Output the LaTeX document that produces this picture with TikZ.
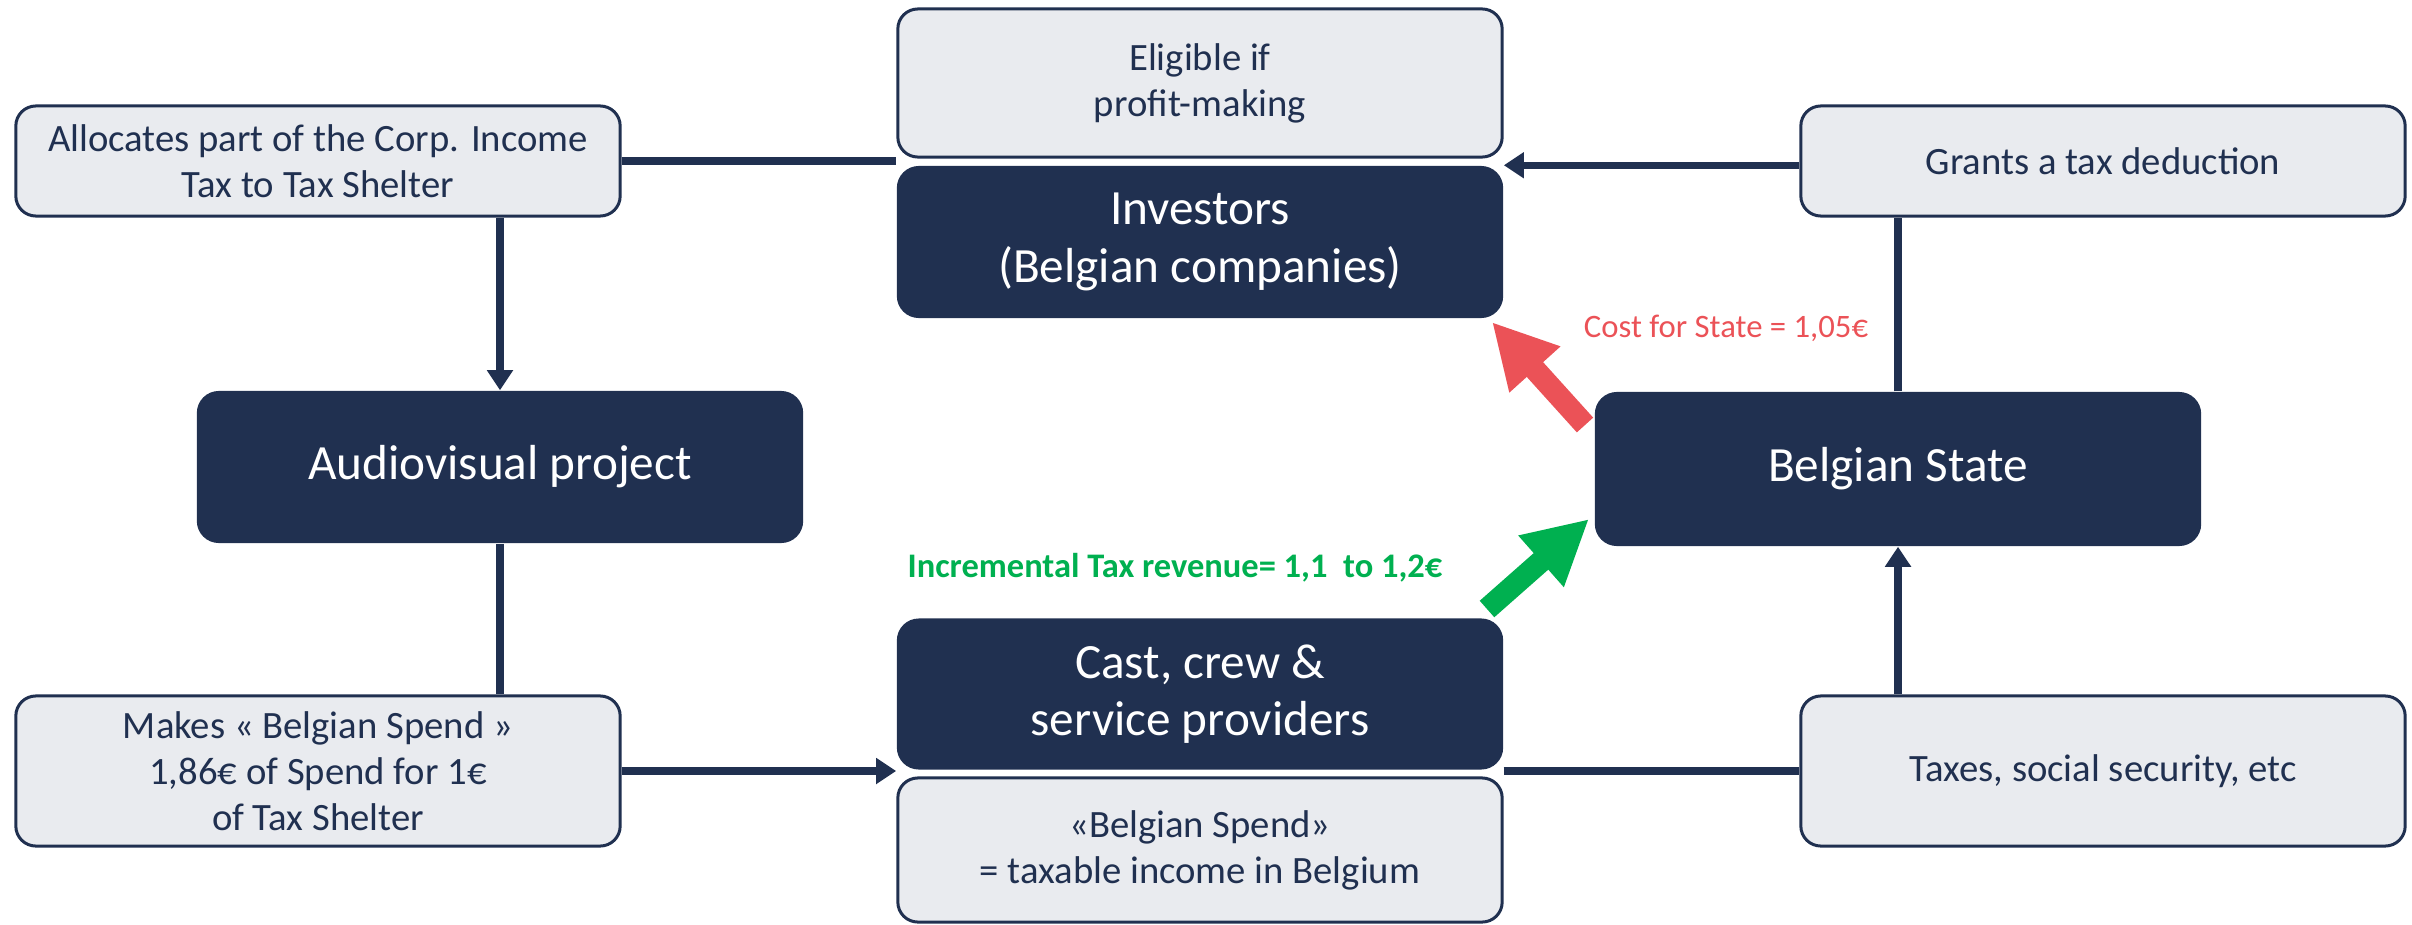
\documentclass[tikz,border=0pt]{standalone}
\usepackage{fontspec}
\setmainfont{Carlito}
\usepackage{tikz}
\usetikzlibrary{arrows.meta}
\definecolor{navy}{RGB}{32,48,80}
\definecolor{paleg}{RGB}{233,235,239}
\definecolor{costred}{RGB}{235,82,87}
\definecolor{taxgreen}{RGB}{0,176,80}
\tikzstyle{dark}=[fill=navy, rounded corners=0.22cm, minimum width=6.06cm, text=white, align=center, font=\fontsize{14}{16.4}\selectfont, inner sep=0pt]
\tikzstyle{light}=[fill=paleg, draw=navy, line width=0.03cm, rounded corners=0.2cm, minimum width=6.04cm, text=navy, align=center, font=\fontsize{11}{13.1}\selectfont, inner sep=0pt]
\tikzstyle{link}=[draw=navy, line width=0.075cm]
\tikzstyle{link>}=[link, -{Triangle[width=0.25cm,length=0.2cm]}]
\tikzstyle{block>}=[line width=0.22cm, -{Triangle[width=0.64cm,length=0.64cm]}]

\begin{document}
\begin{tikzpicture}[x=0.01cm, y=-0.01cm]
\useasboundingbox (0,0) rectangle (2412,924);
\node[light, minimum height=1.48cm] (elig) at (1200,83) {Eligible if\\profit-making};
\node[dark, minimum height=1.52cm] (inv) at (1200,242) {Investors\\(Belgian companies)};
\node[light, minimum height=1.1cm] (alloc) at (318,161) {Allocates part of the Corp. Income\\Tax to Tax Shelter};
\node[light, minimum height=1.1cm] (grant) at (2103,161) {Grants a tax deduction};
\node[dark, minimum height=1.52cm] (av) at (500,467) {Audiovisual project};
\node[dark, minimum height=1.54cm] (state) at (1898,469) {Belgian State};
\node[light, minimum height=1.5cm] (makes) at (318,771) {Makes « Belgian Spend »\\1,86€ of Spend for 1€\\of Tax Shelter};
\node[dark, minimum height=1.51cm] (cast) at (1200,694) {Cast, crew \&\\service providers};
\node[light, minimum height=1.44cm] (spend) at (1200,850) {«Belgian Spend»\\= taxable income in Belgium};
\node[light, minimum height=1.5cm] (taxes) at (2103,771) {Taxes, social security, etc};
\coordinate (redtail) at (1585,425);
\coordinate (redtip) at (1492,322);
\coordinate (greentail) at (1487,609);
\coordinate (greentip) at (1589,519);
\draw[link>] (alloc.south -| av.north) -- (av.north);
\draw[link] (alloc.east) -- (alloc.east -| inv.west);
\draw[link>] (grant.west |- inv.north) -- (inv.north east);
\draw[link] (state.north) -- (state.north |- grant.south);
\draw[link] (av.south) -- (av.south |- makes.north);
\draw[link>] (makes.east) -- (makes.east -| cast.west);
\draw[link] (taxes.west -| spend.north east) -- (taxes.west);
\draw[link>] (state.south |- taxes.north) -- (state.south);
\draw[block>, costred] (redtail) -- (redtip);
\draw[block>, taxgreen] (greentail) -- (greentip);
\node[text=costred, font=\fontsize{9.3}{12}\selectfont] (cost) at (1726,328) {Cost for State = 1,05€};
\node[text=taxgreen, font=\fontsize{9.8}{12}\selectfont\bfseries] (incr) at (1175,568) {Incremental Tax revenue= 1,1~ to 1,2€};
\end{tikzpicture}
\end{document}
